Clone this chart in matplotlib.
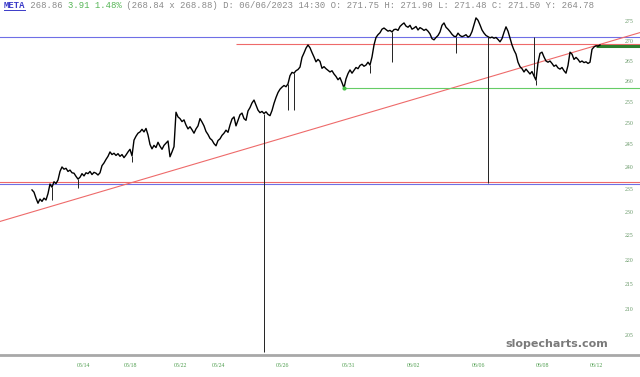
import numpy as np
import matplotlib.pyplot as plt
from matplotlib.ticker import FixedLocator, FixedFormatter, NullLocator, NullFormatter
from matplotlib.lines import Line2D

# META intraday closes, one value per bar
close = [
    234.8, 234.3, 233.0, 231.9, 232.8, 232.3, 233.0, 232.6, 234.0, 236.1,
    235.4, 236.6, 236.2, 237.0, 238.9, 239.9, 239.4, 239.6, 238.9, 239.2,
    238.6, 238.5, 237.8, 237.2, 237.6, 238.4, 237.9, 238.6, 238.4, 238.9,
    238.2, 238.7, 238.5, 238.1, 238.6, 240.2, 240.8, 241.6, 242.3, 243.3,
    242.7, 243.0, 242.5, 242.9, 242.3, 242.7, 242.0, 242.6, 243.3, 243.9,
    242.4, 246.0, 246.9, 247.6, 247.9, 248.5, 247.9, 248.7, 247.2, 245.0,
    244.0, 244.8, 244.3, 245.5, 244.6, 243.9, 244.8, 245.3, 245.8, 242.2,
    243.3, 244.5, 252.5, 251.4, 251.0, 250.3, 250.7, 249.5, 248.6, 249.1,
    248.4, 247.6, 248.6, 249.3, 251.0, 250.2, 249.3, 248.0, 247.3, 246.4,
    246.0, 245.2, 244.7, 245.9, 246.3, 247.1, 247.6, 248.3, 247.8, 249.5,
    250.9, 251.4, 249.3, 250.6, 251.9, 252.3, 251.0, 250.6, 252.8, 253.6,
    254.7, 255.4, 254.2, 253.0, 252.4, 252.7, 252.2, 252.6, 252.0, 251.7,
    252.9, 254.6, 256.0, 257.2, 258.0, 258.5, 258.9, 258.6, 259.3, 261.3,
    262.1, 261.9, 262.5, 262.8, 263.4, 265.8, 266.9, 268.1, 268.9, 268.2,
    267.0, 265.9, 264.7, 265.3, 264.8, 263.1, 263.5, 263.0, 262.6, 262.2,
    262.5, 261.7, 261.1, 260.3, 260.8, 259.6, 258.3, 260.5, 261.8, 262.7,
    261.9, 262.6, 263.3, 263.0, 263.8, 264.1, 263.6, 263.9, 264.6, 263.9,
    265.9, 268.9, 270.8, 271.5, 272.0, 272.9, 273.2, 272.8, 272.4, 272.6,
    272.2, 272.8, 272.9, 272.6, 273.6, 274.1, 274.5, 273.7, 273.4, 273.9,
    272.9, 273.2, 273.6, 272.7, 273.3, 273.0, 272.6, 272.9, 272.4, 271.7,
    270.5, 270.2, 270.8, 271.3, 272.2, 273.9, 274.5, 273.4, 272.9, 272.3,
    271.6, 271.1, 271.0, 271.9, 271.3, 271.0, 271.2, 271.5, 270.9, 271.2,
    272.3, 274.0, 275.8, 275.2, 274.0, 272.7, 271.9, 271.3, 271.0, 270.7,
    270.9, 270.6, 270.8, 270.3, 269.7, 270.5, 272.1, 273.5, 272.4, 270.6,
    268.9, 267.6, 266.6, 264.6, 263.5, 263.0, 262.2, 262.9, 262.3, 261.7,
    262.3, 261.2, 260.2, 264.5, 266.8, 267.1, 265.9, 264.9, 264.6, 264.9,
    264.3, 263.6, 263.9, 263.2, 262.9, 263.3, 262.5, 261.9, 263.8, 267.1,
    266.6, 265.3, 265.8, 265.3, 264.6, 264.9, 264.5, 264.7, 264.3, 264.6,
    267.8, 268.4, 268.7, 268.6, 268.9,
]

# bad ticks: bar index and the price the wick reaches
wick_bar = [10, 23, 50, 116, 128, 131, 169, 180, 212, 228, 251, 252]
wick_end = [232.6, 235.2, 241.0, 201.8, 253.0, 253.0, 261.9, 264.6, 266.9, 236.3, 271.0, 259.0]

# drawn levels
blue_levels = [271.0, 236.0]
red_full = 236.6
red_upper = 269.1
red_upper_from = 102
support = 258.2
support_bar = 156
last_price = 268.6
last_from = 282
trend_a = (0, 230.0)
trend_b = (285, 269.2)

tick_bars = [25.5, 49.5, 74, 93, 125, 158.5, 190.5, 223, 255.5, 282]
tick_labels = ["05/14", "05/18", "05/22", "05/24", "05/26",
               "05/31", "06/02", "06/06", "06/08", "06/12"]
y_ticks = list(range(205, 280, 5))

x_lo, x_hi = -16, 304

fig = plt.figure(figsize=(6.4, 3.77), dpi=100, facecolor="white")
ax = fig.add_axes([0, 22 / 377, 1, 340 / 377])
ax.set_yscale("log")
ax.set_xlim(x_lo, x_hi)
ax.set_ylim(201.2, 276.55)

#=== Levels and trend line ===
for lv in blue_levels:
    ax.axhline(lv, color="#6f6fe6", lw=0.8, zorder=1)
ax.axhline(red_full, color="#ee6a6a", lw=0.8, zorder=1)
ax.hlines(red_upper, red_upper_from, x_hi, color="#ee6a6a", lw=0.8, zorder=1)
ax.axline(trend_a, trend_b, color="#ee6a6a", lw=0.8, zorder=1)
ax.hlines(support, support_bar, x_hi, color="#66cc66", lw=0.8, zorder=1)
ax.scatter([support_bar], [support], s=9, color="#44c044", zorder=4, linewidths=0)
ax.hlines(last_price, last_from, x_hi, color="#2f7f2f", lw=2.2, zorder=2)

#=== Price ===
X = np.arange(len(close))
ax.plot(X, close, color="black", lw=1.0, zorder=3)
ax.vlines(wick_bar, [close[i] for i in wick_bar], wick_end, color="#222222", lw=0.7, zorder=3)

#=== Axes decoration ===
for s in ["top", "left", "right"]:
    ax.spines[s].set_visible(False)
ax.spines["bottom"].set_color("#a8a8a8")
ax.spines["bottom"].set_linewidth(2)

ax.xaxis.set_major_locator(FixedLocator(tick_bars))
ax.xaxis.set_major_formatter(FixedFormatter(tick_labels))
ax.tick_params(axis="x", length=0, pad=5.5, labelsize=4.2, labelcolor="#4d9d4d")
for t in ax.get_xticklabels():
    t.set_family("Liberation Serif")

ax.yaxis.tick_right()
ax.yaxis.set_major_locator(FixedLocator(y_ticks))
ax.yaxis.set_major_formatter(FixedFormatter([str(v) for v in y_ticks]))
ax.yaxis.set_minor_locator(NullLocator())
ax.yaxis.set_minor_formatter(NullFormatter())
ax.tick_params(axis="y", length=0, pad=-10.8, labelsize=4.2, labelcolor="#6a9a6a")
for t in ax.get_yticklabels():
    t.set_family("Liberation Serif")

#=== Header line ===
fs = 6.4
cw = 0.6 * fs * 100 / 72 / 640  # monospace char width in figure fraction
hy = 1 - 8.5 / 377
parts = [("META", "#3a3ac8", "bold"), (" 268.86 ", "#8a8a8a", "normal"),
         ("3.91 1.48%", "#55b555", "normal"),
         (" (268.84 x 268.88) D: 06/06/2023 14:30 O: 271.75 H: 271.90 L: 271.48 C: 271.50 Y: 264.78",
          "#8a8a8a", "normal")]
n = 0
for txt, col, w in parts:
    fig.text(4 / 640 + n * cw, hy, txt, family="Liberation Mono", fontsize=fs,
             color=col, weight=w, va="baseline", ha="left")
    n += len(txt)
fig.add_artist(Line2D([4 / 640, 4 / 640 + 4 * cw], [hy - 1.5 / 377] * 2,
                      color="#3a3ac8", lw=0.7, transform=fig.transFigure))

fig.text(557 / 640, 1 - 344 / 377, "slopecharts.com", ha="center", va="center",
         fontsize=8, weight="bold", color="#7a7a7a")

fig.savefig("out.png", dpi=100, facecolor="white")
